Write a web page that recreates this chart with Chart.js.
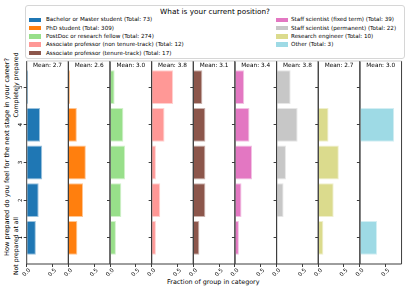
<!DOCTYPE html>
<html>
<head>
<meta charset="utf-8">
<script src="https://cdn.jsdelivr.net/npm/chart.js@4.4.1/dist/chart.umd.min.js"></script>
<style>
body { margin: 0; background: #fff; width: 407px; height: 291px; overflow: hidden; position: relative; font-family: "DejaVu Sans", sans-serif; color: #000; }
canvas { position: absolute; }
#legend { position: absolute; left: 25px; top: 5px; width: 378px; height: 52px; border: 1px solid #d6d6d6; border-radius: 3px; background: #fff; }
.ltitle { position: absolute; left: 0; width: 100%; top: 1px; text-align: center; font-size: 7.3px; line-height: 9px; }
.item { position: absolute; font-size: 5.6px; line-height: 7px; white-space: nowrap; }
.patch { position: absolute; width: 12.5px; height: 4.5px; }
.rot { position: absolute; white-space: nowrap; line-height: 7px; transform: translate(-50%, -50%) rotate(-90deg); }
.lab { position: absolute; white-space: nowrap; line-height: 7px; transform: translate(-50%, -50%); }
</style>
</head>
<body>
<div id="legend"><div class="ltitle">What is your current position?</div></div>
<div class="rot" style="left:7.3px; top:157px; font-size:6.6px;">How prepared do you feel for the next stage in your career?</div>
<div class="rot" style="left:15px; top:246px; font-size:6.2px;">Not prepared at all</div>
<div class="rot" style="left:15px; top:85px; font-size:6.2px;">Completely prepared</div>
<div class="lab" style="left:213.3px; top:282px; font-size:6.4px;">Fraction of group in category</div>
<script>
// groups shown in the legend and as panels, left to right
var groups = ['Bachelor or Master student', 'PhD student', 'PostDoc or research fellow',
  'Associate professor (non tenure-track)', 'Associate professor (tenure-track)',
  'Staff scientist (fixed term)', 'Staff scientist (permanent)', 'Research engineer', 'Other'];
var totals = [73, 309, 274, 12, 17, 39, 22, 10, 3];
var means = [2.7, 2.6, 3.0, 3.8, 3.1, 3.4, 3.8, 2.7, 3.0];
var colors = ['#1f77b4', '#ff7f0e', '#98df8a', '#ff9896', '#8c564b', '#e377c2', '#c7c7c7', '#dbdb8d', '#9edae5'];

// answer levels (1 = not prepared at all, 5 = completely prepared)
var levels = [1, 2, 3, 4, 5];
// fraction of each group per level, in the order of levels
var bachelor = [0.178, 0.233, 0.301, 0.260, 0.027];
var phd = [0.175, 0.285, 0.340, 0.165, 0.030];
var postdoc = [0.115, 0.220, 0.295, 0.260, 0.090];
var assocNonTenure = [0.083, 0.167, 0.083, 0.250, 0.417];
var assocTenure = [0.118, 0.235, 0.235, 0.235, 0.176];
var staffFixed = [0.077, 0.128, 0.333, 0.282, 0.179];
var staffPermanent = [0, 0.136, 0.182, 0.409, 0.273];
var engineer = [0.1, 0.3, 0.4, 0.2, 0];
var other = [0.333, 0, 0, 0.667, 0];
var fractions = [bachelor, phd, postdoc, assocNonTenure, assocTenure, staffFixed, staffPermanent, engineer, other];

var xTicks = [0, 0.5];
var xTickLabels = ['0.0', '0.5'];
var yTickLabels = ['1', '2', '3', '4', '5'];

function fade(hex, a) {
  var n = parseInt(hex.slice(1), 16);
  return 'rgba(' + (n >> 16) + ',' + ((n >> 8) & 255) + ',' + (n & 255) + ',' + a + ')';
}

// legend
var legend = document.getElementById('legend');
var rowY = [13.8, 22.1, 30.4, 38.7, 47];
groups.forEach(function (g, i) {
  var col = i < 5 ? 0 : 1;
  var row = i < 5 ? i : i - 5;
  var p = document.createElement('div');
  p.className = 'patch';
  p.style.background = colors[i];
  p.style.left = (col ? 249.5 : 2.5) + 'px';
  p.style.top = (rowY[row] - 2.25) + 'px';
  legend.appendChild(p);
  var t = document.createElement('div');
  t.className = 'item';
  t.textContent = g + ' (Total: ' + totals[i] + ')';
  t.style.left = (col ? 265 : 20) + 'px';
  t.style.top = (rowY[row] - 3.5) + 'px';
  legend.appendChild(t);
});

var panelPlugin = {
  id: 'panelDeco',
  afterDraw: function (chart) {
    var ctx = chart.ctx, a = chart.chartArea, i = chart.options.panelIndex;
    var xs = chart.scales.x, ys = chart.scales.y;
    ctx.save();
    ctx.strokeStyle = '#3c3c3c';
    ctx.lineWidth = 1;
    ctx.beginPath();
    ctx.moveTo(a.left, a.top); ctx.lineTo(a.left, a.bottom); ctx.lineTo(a.right, a.bottom); ctx.lineTo(a.right, a.top);
    ctx.stroke();
    ctx.strokeStyle = '#cfcfcf';
    ctx.beginPath(); ctx.moveTo(a.left, a.top); ctx.lineTo(a.right, a.top); ctx.stroke();
    ctx.fillStyle = '#000';
    ctx.font = '5.8px "DejaVu Sans"';
    ctx.textAlign = 'center';
    ctx.textBaseline = 'top';
    ctx.fillText('Mean: ' + means[i].toFixed(1), (a.left + a.right) / 2, a.top + 1.2);
    ctx.font = '5.6px "DejaVu Sans"';
    ctx.textBaseline = 'middle';
    xTicks.forEach(function (v, k) {
      ctx.save();
      ctx.translate(xs.getPixelForValue(v), a.bottom + 8.5);
      ctx.rotate(-Math.PI / 4);
      ctx.fillText(xTickLabels[k], 0, 0);
      ctx.restore();
    });
    if (i === 0) {
      levels.forEach(function (lv, k) {
        ctx.save();
        ctx.translate(a.left - 6, ys.getPixelForValue(lv));
        ctx.rotate(-Math.PI / 2);
        ctx.fillText(yTickLabels[k], 0, 0);
        ctx.restore();
      });
    }
    ctx.restore();
  }
};

var firstLeft = 26.7, panelW = 41.65;
fractions.forEach(function (vals, i) {
  var L = firstLeft + i * panelW;
  var cx = Math.floor(L) - 12;
  var yW = L - cx;
  var W = Math.ceil(yW + panelW) + 8;
  var canvas = document.createElement('canvas');
  canvas.width = W;
  canvas.height = 236;
  canvas.style.left = cx + 'px';
  canvas.style.top = '55px';
  document.body.appendChild(canvas);
  new Chart(canvas, {
    type: 'bar',
    data: {
      datasets: [{
        data: levels.map(function (lv, k) { return { x: vals[k], y: lv }; }),
        backgroundColor: colors[i],
        borderColor: fade(colors[i], 0.45),
        borderWidth: 1,
        categoryPercentage: 0.9,
        barPercentage: 1
      }]
    },
    options: {
      panelIndex: i,
      indexAxis: 'y',
      responsive: false,
      animation: false,
      devicePixelRatio: 1,
      layout: { padding: { left: 0, right: W - yW - panelW, top: 6, bottom: 0 } },
      scales: {
        x: {
          type: 'linear', min: 0, max: 0.81, offset: false,
          afterBuildTicks: function (s) { s.ticks = xTicks.map(function (v) { return { value: v }; }); },
          afterFit: function (s) { s.height = 27; },
          ticks: { display: false },
          grid: { offset: false, drawOnChartArea: false, drawTicks: true, tickLength: 3, color: '#3c3c3c' },
          border: { display: false }
        },
        y: {
          type: 'linear', min: 0.305, max: 5.695, offset: false,
          afterBuildTicks: function (s) { s.ticks = levels.map(function (v) { return { value: v }; }); },
          afterFit: function (s) { s.width = yW; },
          ticks: { display: false },
          grid: { offset: false, drawOnChartArea: false, drawTicks: true, tickLength: 3, color: '#3c3c3c' },
          border: { display: false }
        }
      },
      plugins: { legend: { display: false }, tooltip: { enabled: false } }
    },
    plugins: [panelPlugin]
  });
});
</script>
</body>
</html>
